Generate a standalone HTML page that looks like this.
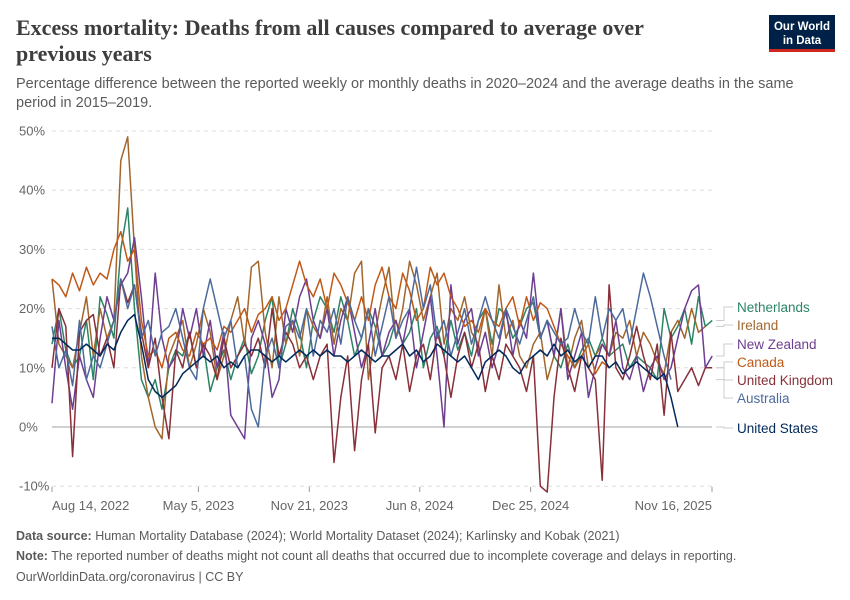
<!DOCTYPE html>
<html><head><meta charset="utf-8"><style>
body{margin:0;background:#fff;}
svg{display:block;font-family:"Liberation Sans",sans-serif;}
</style></head><body>
<svg id="chart" width="850" height="600" viewBox="0 0 850 600">
<text x="16" y="35" font-family="Liberation Serif,serif" font-size="22" font-weight="bold" fill="#3d3d3d">Excess mortality: Deaths from all causes compared to average over</text>
<text x="16" y="61" font-family="Liberation Serif,serif" font-size="22" font-weight="bold" fill="#3d3d3d">previous years</text>
<text x="16" y="88" font-size="14.5" fill="#5b5b5b">Percentage difference between the reported weekly or monthly deaths in 2020–2024 and the average deaths in the same</text>
<text x="16" y="107" font-size="14.5" fill="#5b5b5b">period in 2015–2019.</text>
<g>
<rect x="769" y="15" width="66" height="37" fill="#002147"/>
<rect x="769" y="49" width="66" height="3" fill="#ce261e"/>
<text x="802" y="30" text-anchor="middle" font-size="11.5" font-weight="bold" fill="#fff">Our World</text>
<text x="802" y="44" text-anchor="middle" font-size="11.5" font-weight="bold" fill="#fff">in Data</text>
</g>
<g id="grid"></g>
<g id="series"></g>
<g id="legend"></g>
<text x="16" y="540" font-size="12.5" fill="#5b5b5b"><tspan font-weight="bold">Data source:</tspan> Human Mortality Database (2024); World Mortality Dataset (2024); Karlinsky and Kobak (2021)</text>
<text x="16" y="560" font-size="12.5" fill="#5b5b5b"><tspan font-weight="bold">Note:</tspan> The reported number of deaths might not count all deaths that occurred due to incomplete coverage and delays in reporting.</text>
<text x="16" y="581" font-size="12.5" fill="#5b5b5b">OurWorldinData.org/coronavirus | CC BY</text>
</svg>
<script>
const yTicks=[-10,0,10,20,30,40,50];
const xTickLabels=["Aug 14, 2022","May 5, 2023","Nov 21, 2023","Jun 8, 2024","Dec 25, 2024","Nov 16, 2025"];
const xTickDays=[0,264,464,663,863,1190];
const seriesNames=["Netherlands","Ireland","New Zealand","Canada","United Kingdom","Australia","United States"];
const seriesColors=["#2c8465","#a2662c","#6d3e91","#c05917","#883039","#4c6a9c","#00295b"];
const stepDays=12.4;
const netherlands=[14,20,13,10,12,18,8,22,19,15,30,37,20,8,5,8,3,10,13,12,16,10,14,6,10,13,8,12,15,9,12,18,22,10,14,20,16,10,18,22,20,16,22,18,12,15,20,17,12,14,18,14,16,20,10,15,17,12,18,13,16,12,18,20,14,20,19,15,17,20,21,15,18,12,10,14,10,13,15,12,15,12,13,14,10,12,11,10,8,20,15,17,20,14,22,17,18];
const ireland=[25,14,12,10,16,22,12,20,15,18,45,49,30,12,5,0,-2,12,15,18,10,14,20,16,8,12,18,22,14,27,28,16,10,22,14,18,12,20,17,15,22,14,20,18,26,28,8,16,22,27,15,20,28,24,18,22,26,14,20,18,22,16,14,20,12,24,15,18,12,10,14,16,8,12,20,10,15,18,10,12,14,12,16,15,18,12,16,14,11,9,16,18,15,20,16,17];
const newZealand=[4,18,10,3,12,8,5,15,22,18,24,26,32,22,10,26,15,10,12,20,15,20,12,18,10,16,2,0,-2,15,18,14,5,8,20,16,22,25,18,15,20,12,18,22,16,10,14,20,12,16,18,14,20,10,16,22,12,0,24,14,18,20,12,16,10,14,20,12,18,15,26,15,18,12,20,8,12,16,5,10,14,12,18,10,8,12,6,10,12,8,10,15,20,23,24,10,12];
const canada=[25,24,22,26,23,27,24,26,25,30,33,28,30,18,12,13,10,15,16,13,12,16,14,15,13,17,16,18,20,16,19,20,22,18,20,24,28,24,22,25,20,26,24,21,18,22,18,24,27,22,20,26,23,18,20,27,24,26,22,20,17,18,16,20,18,17,20,22,17,22,18,21,20,17,14,12,10,12,14,9,11,10];
const unitedKingdom=[10,20,17,-5,16,18,19,12,15,10,25,21,24,16,10,15,5,-2,13,10,16,10,14,12,8,15,10,12,14,12,15,10,20,12,16,14,10,12,8,12,14,-6,5,12,-4,8,14,-1,10,12,8,14,6,12,14,8,16,12,5,12,16,10,14,6,12,8,14,12,10,6,12,-10,-11,5,15,10,6,12,10,8,-9,24,10,8,12,17,12,8,14,2,16,6,8,10,7,10,10];
const australia=[17,10,13,7,18,8,12,10,14,18,25,20,24,15,18,12,16,17,20,15,10,8,20,25,20,15,18,10,12,3,0,12,15,10,17,18,15,20,12,18,16,20,14,22,18,15,20,12,17,22,15,18,20,27,20,24,15,18,12,16,20,14,18,22,18,15,20,17,14,18,22,15,18,16,14,15,20,16,14,22,15,20,18,20,14,20,26,22,17,12,8];
const unitedStates=[15,15,14,13,13,14,13,12,14,13,16,18,19,14,8,6,5,6,7,9,10,11,12,11,12,10,11,10,12,13,13,12,11,12,11,12,13,12,13,12,13,12,12,11,12,13,12,11,12,12,13,14,12,13,11,12,14,13,12,11,12,10,8,11,12,13,12,10,9,11,12,13,12,14,12,13,11,12,10,12,12,10,11,9,10,11,10,9,8,9,5,0];
const allSeries=[netherlands,ireland,newZealand,canada,unitedKingdom,australia,unitedStates];
const legendY=[307,325,344,362,380,398,428];

const NS="http://www.w3.org/2000/svg";
const X0=52,X1=712,DMAX=1190;
const xScale=d=>X0+(d/DMAX)*(X1-X0);
const yScale=v=>427-v*5.92;
function mk(tag,attrs,parent){const e=document.createElementNS(NS,tag);for(const k in attrs)e.setAttribute(k,attrs[k]);parent.appendChild(e);return e;}
const grid=document.getElementById('grid');
yTicks.forEach(t=>{
  const y=yScale(t);
  const ln=mk('line',{x1:X0,x2:X1,y1:y,y2:y,stroke:t===0?'#a1a1a1':'#dddddd','stroke-dasharray':t===0?'none':'4,4'},grid);
  
  
  const tx=mk('text',{x:19,y:y+4.5,'font-size':13,fill:'#666'},grid);
  tx.textContent=t+'%';
  
  
});
xTickDays.forEach((d,i)=>{
  const x=xScale(d);
  const tk=mk('line',{x1:x,x2:x,y1:487,y2:492,stroke:'#999'},grid);
  
  
  const anchor=i===0?'start':(i===xTickDays.length-1?'end':'middle');
  const tx=mk('text',{x:x,y:510,'font-size':13,fill:'#666','text-anchor':anchor},grid);
  tx.textContent=xTickLabels[i];
  
  
});
const sg=document.getElementById('series');
const lg=document.getElementById('legend');
allSeries.forEach((vals,si)=>{
  const pts=vals.map((v,i)=>xScale(i*stepDays).toFixed(1)+','+yScale(v).toFixed(1)).join(' ');
  const pl=mk('polyline',{points:pts,fill:'none',stroke:seriesColors[si],'stroke-width':1.5,'stroke-linejoin':'round'},sg);
  
  
  const lastY=yScale(vals[vals.length-1]);
  const ly=legendY[si];
  const c=mk('polyline',{points:`716,${lastY} 724,${lastY} 724,${ly} 733,${ly}`,fill:'none',stroke:'#ccc','stroke-width':1},lg);
  
  
  const t=mk('text',{x:737,y:legendY[si]+5,'font-size':13.5,fill:seriesColors[si]},lg);
  t.textContent=seriesNames[si];
  
  
});
</script>
</body></html>
